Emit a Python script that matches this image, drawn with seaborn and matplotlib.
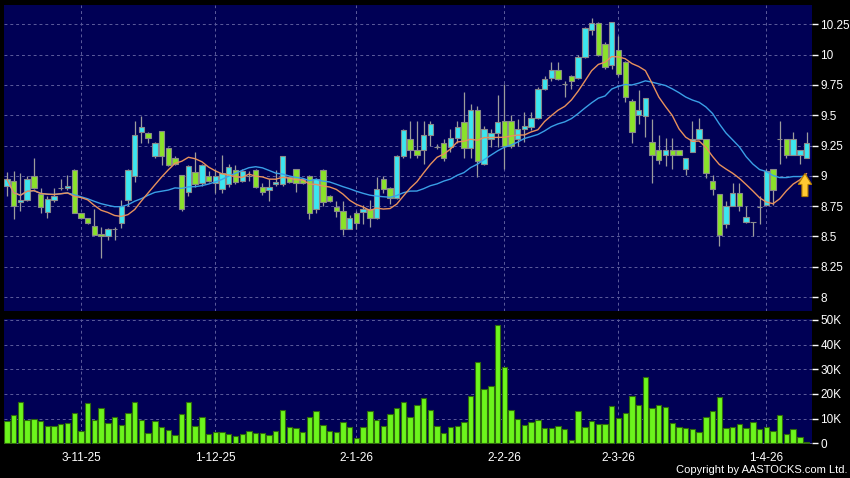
import seaborn as sns
import matplotlib.pyplot as plt
from matplotlib.patches import FancyArrow
import numpy as np
import pandas as pd

# daily OHLC (oldest first)
opens = [8.92, 8.96, 8.78, 8.80, 9.00, 8.85, 8.70, 8.80, 8.90, 8.90,
         9.05, 8.69, 8.65, 8.59, 8.52, 8.50, 8.56, 8.61, 8.80, 9.00,
         9.36, 9.35, 9.16, 9.37, 9.23, 9.15, 9.01, 8.87, 9.03, 8.94,
         9.00, 8.94, 8.89, 8.93, 9.05, 8.96, 9.00, 9.05, 8.91, 8.88,
         8.93, 8.93, 8.99, 9.06, 8.97, 9.00, 8.73, 9.05, 8.83, 8.74,
         8.71, 8.56, 8.69, 8.70, 8.73, 8.65, 8.97, 8.90, 8.82, 9.16,
         9.30, 9.21, 9.21, 9.34, 9.24, 9.27, 9.24, 9.31, 9.44, 9.23,
         9.54, 9.10, 9.30, 9.35, 9.45, 9.45, 9.30, 9.39, 9.40, 9.48,
         9.72, 9.81, 9.87, 9.76, 9.82, 9.81, 9.98, 10.20, 10.26, 10.09,
         9.91, 10.04, 9.94, 9.62, 9.50, 9.49, 9.28, 9.21, 9.17, 9.21,
         9.21, 9.06, 9.20, 9.30, 9.30, 8.96, 8.85, 8.60, 8.75, 8.86,
         8.62, 8.62, 8.74, 8.76, 9.06, 9.30, 9.30, 9.17, 9.17, 9.15]
highs = [9.03, 9.04, 9.02, 9.00, 9.15, 8.90, 8.83, 8.90, 8.97, 9.01,
         9.06, 8.69, 8.65, 8.73, 8.58, 8.57, 8.58, 8.80, 9.06, 9.45,
         9.49, 9.36, 9.28, 9.37, 9.24, 9.16, 9.01, 9.09, 9.20, 9.10,
         9.04, 9.05, 9.17, 9.10, 9.09, 9.06, 9.04, 9.06, 8.94, 8.97,
         9.05, 9.16, 9.00, 9.06, 8.98, 9.01, 8.98, 9.06, 8.84, 8.79,
         8.79, 8.68, 8.71, 8.76, 8.80, 8.99, 9.00, 8.91, 9.17, 9.39,
         9.45, 9.45, 9.45, 9.45, 9.26, 9.30, 9.39, 9.45, 9.69, 9.59,
         9.58, 9.41, 9.39, 9.67, 9.76, 9.50, 9.47, 9.53, 9.53, 9.73,
         9.82, 9.94, 9.94, 9.78, 9.83, 10.00, 10.23, 10.30, 10.27, 10.10,
         10.27, 10.15, 9.95, 9.63, 9.71, 9.64, 9.47, 9.34, 9.31, 9.31,
         9.21, 9.15, 9.45, 9.48, 9.30, 9.01, 8.85, 8.79, 8.94, 8.94,
         8.75, 8.62, 8.83, 9.06, 9.06, 9.45, 9.30, 9.36, 9.21, 9.36]
lows = [8.83, 8.64, 8.71, 8.79, 8.89, 8.69, 8.65, 8.78, 8.88, 8.88,
        8.69, 8.64, 8.60, 8.51, 8.32, 8.47, 8.47, 8.57, 8.75, 8.95,
        9.27, 9.27, 9.15, 9.09, 9.08, 9.09, 8.71, 8.83, 8.91, 8.92,
        8.95, 8.86, 8.86, 8.91, 8.93, 8.95, 8.96, 8.90, 8.84, 8.79,
        8.92, 8.92, 8.94, 8.87, 8.93, 8.64, 8.69, 8.75, 8.78, 8.66,
        8.51, 8.56, 8.56, 8.60, 8.58, 8.64, 8.86, 8.77, 8.81, 9.15,
        9.15, 9.15, 9.10, 9.25, 9.22, 9.12, 9.20, 9.27, 9.15, 9.15,
        8.99, 9.09, 9.24, 9.24, 9.06, 9.23, 9.25, 9.28, 9.38, 9.47,
        9.71, 9.78, 9.79, 9.65, 9.72, 9.80, 9.97, 10.16, 9.99, 9.88,
        9.88, 9.82, 9.61, 9.27, 9.43, 9.32, 8.94, 9.10, 9.08, 9.06,
        9.17, 9.01, 9.20, 9.30, 8.98, 8.84, 8.42, 8.57, 8.75, 8.71,
        8.61, 8.50, 8.60, 8.75, 8.76, 9.10, 9.15, 9.17, 9.10, 9.15]
closes = [8.97, 8.75, 8.80, 8.97, 8.90, 8.74, 8.81, 8.83, 8.90, 8.92,
          8.69, 8.65, 8.61, 8.51, 8.50, 8.56, 8.56, 8.75, 9.05, 9.34,
          9.40, 9.31, 9.27, 9.16, 9.09, 9.10, 8.73, 9.08, 8.93, 9.09,
          8.96, 9.00, 9.02, 9.07, 8.95, 9.04, 9.00, 8.91, 8.87, 8.91,
          8.95, 9.16, 8.95, 8.94, 8.94, 8.69, 8.97, 8.78, 8.79, 8.71,
          8.56, 8.65, 8.61, 8.73, 8.65, 8.89, 8.89, 8.82, 9.16, 9.38,
          9.21, 9.17, 9.34, 9.43, 9.24, 9.15, 9.31, 9.40, 9.23, 9.54,
          9.12, 9.39, 9.35, 9.44, 9.25, 9.25, 9.39, 9.41, 9.48, 9.72,
          9.80, 9.87, 9.80, 9.76, 9.78, 9.98, 10.22, 10.26, 10.00, 9.90,
          10.27, 9.84, 9.65, 9.36, 9.54, 9.64, 9.17, 9.13, 9.21, 9.17,
          9.17, 9.15, 9.30, 9.39, 9.02, 8.89, 8.51, 8.75, 8.86, 8.75,
          8.66, 8.62, 8.74, 9.04, 8.88, 9.30, 9.17, 9.30, 9.21, 9.27]

# daily volume in thousands
volumes = [9.1, 11.6, 16.8, 9.5, 9.7, 9.2, 6.9, 6.9, 7.8, 8.2,
           12.2, 5.0, 16.2, 9.6, 14.2, 8.4, 10.7, 7.4, 12.3, 16.8,
           9.3, 4.2, 9.2, 6.4, 5.4, 3.4, 11.8, 16.8, 7.0, 10.7,
           3.6, 4.6, 4.6, 3.8, 2.8, 3.9, 5.1, 4.2, 4.2, 3.5,
           4.9, 13.5, 6.6, 6.2, 4.6, 10.7, 13.1, 7.4, 5.1, 4.6,
           8.8, 6.4, 2.3, 6.4, 13.1, 9.3, 7.2, 11.8, 14.5, 16.6,
           10.7, 15.7, 18.4, 13.4, 6.9, 4.2, 6.5, 7.0, 8.5, 19.1,
           33.1, 22.0, 23.2, 47.8, 30.8, 13.5, 9.9, 7.4, 8.5, 9.6,
           6.2, 6.2, 7.0, 5.7, 1.4, 13.0, 6.4, 9.2, 7.8, 7.7,
           15.0, 10.3, 12.3, 19.2, 15.4, 26.9, 14.2, 15.4, 14.7, 8.2,
           6.5, 6.2, 5.7, 4.7, 10.7, 13.1, 18.8, 6.2, 6.4, 7.7,
           6.2, 8.8, 5.8, 6.6, 5.1, 11.4, 3.8, 5.8, 2.6, 0.4]

date_ticks = [11, 31, 52, 74, 91, 113]
date_labels = ['3-11-25', '1-12-25', '2-1-26', '2-2-26', '2-3-26', '1-4-26']
price_ticks = [8, 8.25, 8.5, 8.75, 9, 9.25, 9.5, 9.75, 10, 10.25]
vol_ticks = [0, 10, 20, 30, 40, 50]
vol_labels = ['0', '10K', '20K', '30K', '40K', '50K']

df = pd.DataFrame({'open': opens, 'high': highs, 'low': lows,
                   'close': closes, 'vol': volumes})
df['idx'] = np.arange(len(df))
df['ma10'] = df['close'].rolling(10, min_periods=1).mean()
df['ma20'] = df['close'].rolling(20, min_periods=1).mean()

BG = '#000055'
GRID = '#5c5c9c'
UP = '#3ce6f0'
DOWN = '#8ae22a'

sns.set_theme(style='dark')
plt.rcParams['font.family'] = ['Liberation Sans', 'DejaVu Sans']

W, H = 850, 478
fig = plt.figure(figsize=(W / 100, H / 100), dpi=100, facecolor='black')
axp = fig.add_axes([4 / W, 1 - 311 / H, 808 / W, 306 / H])
axv = fig.add_axes([4 / W, 1 - 444 / H, 808 / W, 125 / H])

# price panel
x = df['idx'].values
o = df['open'].values
c = df['close'].values
body_col = [UP if cc >= oo else DOWN for oo, cc in zip(o, c)]
axp.vlines(x, df['low'], df['high'], color='#9c9c9c', linewidth=0.9, zorder=2)
axp.bar(x, np.abs(c - o), bottom=np.minimum(o, c), width=0.8, color=body_col,
        edgecolor='#8a8a8a', linewidth=0.8, zorder=3)
sns.lineplot(data=df, x='idx', y='ma20', ax=axp, color='#3a9fe6', linewidth=1.0, zorder=4)
sns.lineplot(data=df, x='idx', y='ma10', ax=axp, color='#e8915c', linewidth=1.0, zorder=4)

last = len(df) - 1
tip = df['ma10'].iloc[-1]
axp.add_patch(FancyArrow(last - 0.25, tip - 0.19, 0, 0.19, width=0.9, head_width=2.0,
                         head_length=0.09, length_includes_head=True,
                         facecolor='#ffc933', edgecolor='#b07a00', linewidth=0.8, zorder=6))

axp.set_ylim(7.885, 10.409)
axp.set_yticks(price_ticks)
axp.set_yticklabels(['{:g}'.format(t) for t in price_ticks])

# volume panel
sns.barplot(data=df, x='idx', y='vol', ax=axv, native_scale=True, color='#6cf51c',
            saturation=1, edgecolor='#2f6a0c', linewidth=0.8, errorbar=None, width=0.8)
axv.set_ylim(-0.3, 50.4)
axv.set_yticks(vol_ticks)
axv.set_yticklabels(vol_labels)

for ax in (axp, axv):
    ax.set_facecolor(BG)
    ax.set_xlim(-0.45, 119.8)
    ax.set_xticks(date_ticks)
    ax.grid(True, color=GRID, linestyle=(0, (3, 3)), linewidth=0.7)
    ax.set_axisbelow(True)
    ax.yaxis.tick_right()
    ax.tick_params(axis='y', colors='white', labelsize=8.5, length=4, width=1,
                   direction='out', pad=2)
    ax.set_xlabel('')
    ax.set_ylabel('')
    for s in ax.spines.values():
        s.set_visible(False)

axp.tick_params(axis='x', length=0, labelbottom=False)
axv.set_xticklabels(date_labels)
axv.tick_params(axis='x', colors='white', labelsize=8.5, length=3, width=1,
                direction='out', pad=3)

fig.text(848 / W, 1 - 470 / H, 'Copyright by AASTOCKS.com Ltd.', color='white',
         fontsize=8, ha='right', va='center')

fig.savefig('out.png', dpi=100, facecolor='black')
